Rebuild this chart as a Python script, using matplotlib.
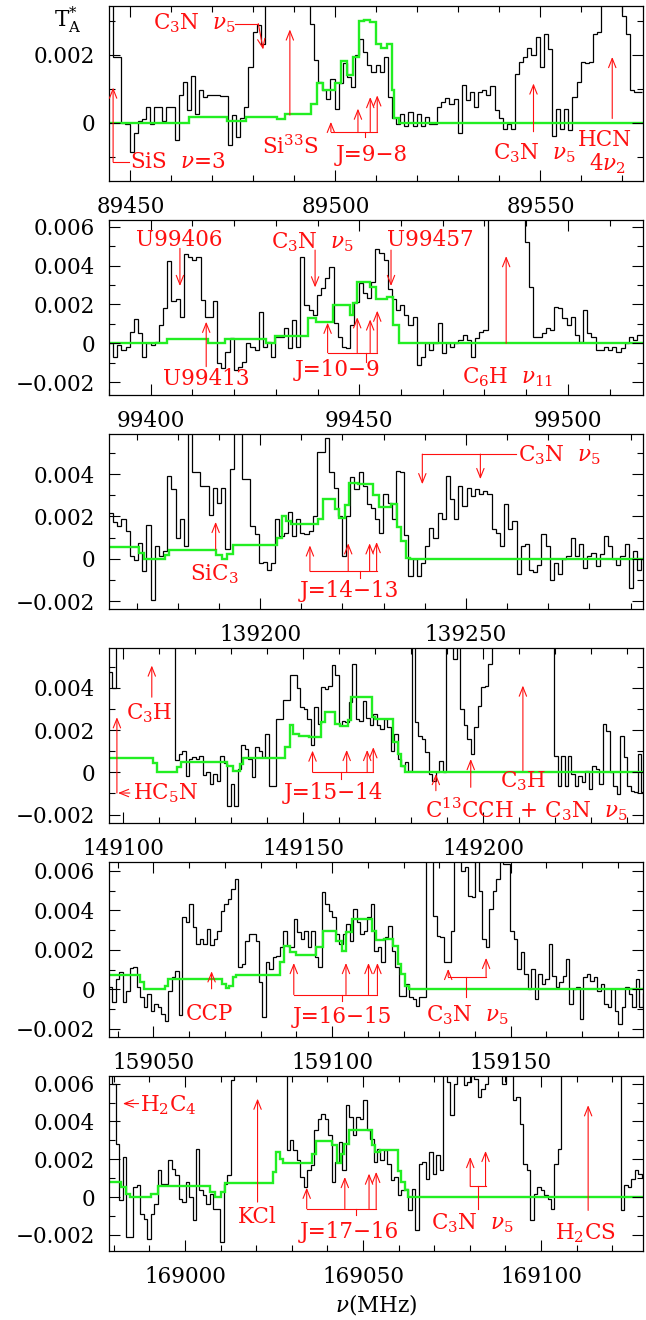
import numpy as np
import matplotlib
matplotlib.use('Agg')
import matplotlib.pyplot as plt
from matplotlib.ticker import MultipleLocator, FuncFormatter

plt.rcParams['font.family'] = ['DejaVu Serif']
plt.rcParams['mathtext.fontset'] = 'dejavuserif'

RED = '#ff1010'
GREEN = '#22ee22'
FS = 15.5

# ---------------- data (T_A* in mK, frequency in MHz) ----------------
# Panel 1 : J=9-8
p1_f0, p1_df = 89444.8, 1.0
p1_obs = [4.0, 1.93, 1.93, 0.0, -0.05, -0.86, -0.32, 0.05, 0.09, 0.46,
          -0.05, 0.46, 0.46, 0.05, 0.46, 0.46, -0.5, 0.8, 1.2, 0.36,
          1.36, 0.26, 0.97, 0.75, 0.82, 0.82, 0.82, 0.77, 0.77, -0.67,
          0.22, -0.42, 0.12, 0.46, 1.64, 2.67, 2.86, 2.32, 4.0, 4.0,
          4.0, 4.0, 4.0, 4.0, 4.0, 4.0, 4.0, 4.0, 4.0, 2.91,
          1.83, 1.2, 0.95, 0.68, 1.29, 0.41, 1.15, 1.74, 1.34, 1.05,
          1.98, 2.47, 2.08, 1.69, 1.49, 1.69, 1.49, 1.93, 0.75, 0.12,
          -0.05, 0.26, -0.1, 0.31, -0.1, 0.26, -0.1, 0.17, -0.03, -0.03,
          0.46, 0.61, 0.71, 0.56, 0.68, -0.32, 1.1, 0.66, 0.9, 0.46,
          0.9, 0.95, 0.8, 1.07, 0.36, 0.12, -0.18, -0.03, -0.18, 1.44,
          1.78, 1.93, 2.2, 1.98, 2.52, 1.64, 2.62, 2.15, -0.4, 0.41,
          -0.18, 0.41, -0.23, 0.75, 1.2, 1.78, 1.74, 1.78, 2.62, 2.67,
          4.0, 4.0, 4.0, 4.0, 4.0, 3.15, 2.6, 0.95, 0.9, 0.9]
p1_model_edges = [89444.8, 89464.4, 89473.5, 89478.1, 89485.7, 89487.7, 89494.1,
                  89495.5, 89496.9, 89499.9, 89501.4, 89502.9, 89504.3, 89505.7,
                  89507.0, 89508.5, 89510.0, 89511.1, 89512.6, 89513.8, 89514.4,
                  89515.4, 89575.0]
p1_model = [0, 0.15, 0.05, 0.15, 0.1, 0.26, 0.56, 1.15, 0.97, 1.15, 1.8, 1.4,
            1.93, 3.0, 3.03, 2.96, 2.32, 2.2, 2.32, 0.97, 0.12, 0]
p1_xlim, p1_ylim = (89444.8, 89575.0), (-1.72, 3.43)

# Panel 2 : J=10-9
p2_f0, p2_df = 99390.0, 0.997
p2_obs = [0.0, -0.69, -0.09, -0.34, -0.17, 0.6, 1.23, 0.51, -0.69, 0.0,
          -0.09, 0.09, 0.94, 1.8, 4.25, 2.2, 2.26, 1.37, 4.58, 4.46,
          4.29, 4.46, 2.23, 1.37, 1.37, 2.2, -1.03, -1.29, -0.43, 0.26,
          -1.37, -1.2, -0.94, 0.0, -0.17, -0.34, 1.63, -0.21, 0.09, -0.69,
          0.34, 0.34, 0.77, -0.26, 1.2, -0.17, 4.46, 1.97, 1.72, 1.46,
          2.49, 2.83, 3.34, 3.95, 1.03, 0.34, -0.17, -0.26, 0.94, 2.14,
          3.09, 2.57, 2.32, 3.17, 4.84, 4.63, 4.29, 2.78, 2.26, 1.72,
          1.97, 1.46, 0.94, 1.37, -1.11, -0.69, 0.0, -0.34, 0.0, 1.03,
          -0.51, 0.0, -0.17, 0.0, 0.17, 0.43, 0.17, -0.69, 0.26, 0.6,
          0.69, 7, 7, 7, 7, 7, 7, 7, 7, 7,
          5.23, 2.92, 0.34, 0.34, 0.51, 0.77, 0.69, 1.89, 1.8, 1.29,
          0.94, 1.37, 0.43, 0.09, 1.72, 0.51, 0.34, -0.34, -0.34, -0.17,
          -0.34, -0.17, -0.43, -0.26, 0.0, 0.34, 0.17, 0.43, 0.43]
p2_model_edges = [99390.0, 99403.8, 99413.8, 99417.7, 99427.7, 99429.7, 99437.7,
                  99439.7, 99443.7, 99447.7, 99448.5, 99449.4, 99452.6, 99454.1,
                  99456.6, 99458.1, 99459.4, 99518.0]
p2_model = [0.03, 0.2, 0.03, 0.2, 0.03, 0.38, 1.29, 1.11, 1.97, 1.46, 2.06, 3.17,
            2.88, 2.26, 2.4, 0.94, 0]
p2_xlim, p2_ylim = (99390.0, 99518.0), (-2.66, 6.35)

# Panel 3 : J=14-13
p3_f0, p3_df = 139163.3, 1.01
p3_obs = [2.18, 1.74, 1.55, 1.86, 1.31, 0.13, -0.08, 0.73, -0.58, 1.58,
          -1.93, 0.6, 0.13, 0.36, 3.92, 3.29, 1.0, 1.9, 0.6, 7,
          4.1, 4.1, 3.44, 3.44, 2.07, 3.36, 2.65, 3.36, 0.44, 4.23,
          7, 7, 3.76, 3.76, 1.55, 1.15, -0.22, -0.16, -0.51, -0.19,
          1.86, 1.07, 1.23, 2.21, 1.07, 1.86, 1.23, 1.15, 1.31, 2.02,
          5.02, 5.02, 5.69, 4.08, 3.32, 2.02, 0.13, 2.02, 3.84, 3.29,
          4.1, 3.44, 2.58, 2.42, 1.86, 1.23, 3.05, 2.65, 1.9, 4.15,
          4.1, 1.11, -0.82, -0.03, -0.82, -0.22, 0.6, 1.47, 1.0, 2.18,
          1.9, 3.92, 2.81, 1.86, 3.44, 2.5, 3.36, 2.97, 3.29, 3.05,
          3.21, 3.05, 1.39, 1.23, 0.6, 2.58, 1.39, 1.79, -0.74, 0.6,
          0.68, -0.51, -0.63, -0.27, 1.15, 0.6, -0.98, -0.19, -0.74, -0.03,
          0.13, 1.0, 0.13, 0.68, -0.43, 0.13, 0.28, -0.35, 0.21, 1.07,
          0.6, -0.03, -0.27, 0.13, 0.68, -1.37, 0.36, -0.51, -0.03]
p3_model_edges = [139163.3, 139170.7, 139171.7, 139176.8, 139177.8, 139189.4,
                  139190.7, 139191.9, 139193.4, 139204.0, 139205.4, 139206.4,
                  139207.6, 139214.1, 139215.2, 139218.2, 139219.2, 139220.7,
                  139221.7, 139223.7, 139227.3, 139228.8, 139231.8, 139233.3,
                  139234.3, 139235.4, 139236.4, 139293.0]
p3_model = [0.57, 0.28, 0, 0.2, 0.41, 0.2, 0, 0.24, 0.63, 1.0, 2.02, 1.79, 1.63,
            1.9, 2.81, 2.34, 1.93, 2.53, 3.6, 3.55, 3.0, 2.46, 2.58, 1.52, 0.84,
            0.05, 0]
p3_xlim, p3_ylim = (139163.3, 139293.0), (-2.37, 5.89)

# Panel 4 : J=15-14
p4_f0, p4_df = 149096.0, 0.967
p4_obs = [4.75, 3.99, 7, 7, 7, 7, 7, 7, 7, 7,
          7, 7, 7, 7, 7, 7, 7, 7, 7, 0.6,
          0.87, 1.03, -0.16, 0.63, 0.71, 0.63, 0.79, -0.13, 0.0, -0.55,
          -0.08, -0.4, 0.79, 0.44, -1.58, -0.55, -1.58, 0.16, 1.3, 1.11,
          0.63, -0.24, 1.19, 1.03, 0.71, 1.82, -0.63, -0.63, 2.53, 2.53,
          3.43, 3.43, 4.59, 4.59, 3.99, 3.09, 3.0, 2.53, 1.3, 3.09,
          2.29, 4.03, 3.96, 4.11, 5.09, 4.62, 2.22, 2.45, 2.37, 3.32,
          5.14, 2.53, 2.45, 3.4, 2.56, 2.22, 2.77, 2.22, 2.06, 2.53,
          2.14, 1.03, 1.82, 0.63, 0.32, 0.47, 0.08, 7, 2.37, 1.74,
          1.58, 0.95, -0.08, -0.4, 0.0, 0.55, 0.0, 7, 7, 5.38,
          7, 3.0, 2.22, 1.58, 0.87, 2.14, 3.16, 4.03, 4.11, 5.14,
          7, 7, 7, 7, 7, 7, 7, 7, 7, 7,
          7, 7, 7, 7, 7, 7, 7, 7, 0.79, -0.63,
          0.79, -0.63, 0.79, -0.08, -0.63, -0.16, -0.47, 0.08, -0.79, 0.32,
          0.16, -0.55, 2.29, 1.98, 0.0, -0.63, -1.03, 1.74, 0.71, -0.63,
          -0.87, -0.95, 0.87, -0.95]
p4_model_edges = [149096.0, 149108.1, 149109.4, 149114.9, 149115.9, 149128.9,
                  149130.4, 149132.3, 149133.3, 149144.9, 149146.3, 149147.3,
                  149148.7, 149151.6, 149155.0, 149156.0, 149158.9, 149160.1,
                  149162.5, 149163.2, 149169.1, 149170.0, 149174.9, 149176.3,
                  149177.3, 149178.2, 149245.0]
p4_model = [0.66, 0.44, 0, 0.24, 0.47, 0.32, 0.05, 0.4, 0.68, 1.19, 2.25, 1.82,
            1.71, 1.66, 2.37, 2.85, 2.29, 2.2, 2.5, 3.56, 2.61, 2.55, 1.42, 0.87,
            0.32, 0]
p4_xlim, p4_ylim = (149096.0, 149244.5), (-2.4, 5.89)

# Panel 5 : J=16-15
p5_f0, p5_df = 159037.6, 0.976
p5_obs = [0.1, -0.66, 0.52, 0.86, -0.66, -0.07, 1.08, 1.11, 0.1, -0.41,
          -0.91, -0.24, -1.08, -0.74, -0.91, -1.25, -1.59, -0.07, 0.61, 0.95,
          -1.33, 3.65, 3.4, 4.32, 3.15, 2.3, 2.55, 2.3, 3.07, 2.23,
          2.55, 2.97, 3.99, 4.32, 4.58, 5.08, 5.59, 1.11, 1.28, 2.47,
          2.8, 2.8, 2.47, 0.35, -1.42, 1.37, 1.03, 1.62, 1.71, 2.13,
          2.97, 2.21, 2.13, 3.56, 2.89, 2.55, 2.97, 2.13, 2.97, 1.62,
          1.11, 4.92, 4.32, 3.99, 3.65, 2.8, 2.3, 2.8, 3.31, 2.47,
          4.07, 3.4, 2.8, 2.97, 3.65, 4.32, 1.96, 2.13, 1.37, 2.64,
          3.23, 1.96, 1.11, -0.32, -0.32, 0.27, -0.41, -0.49, -0.83, -0.41,
          -0.41, 7, 7, 3.73, 2.72, 2.64, 1.37, 1.37, 2.97, 7,
          7, 6.0, 6.2, 4.75, 4.66, 7, 5.0, 2.55, 2.13, 4.07,
          5.0, 5.59, 7, 6.35, 6.35, 2.97, 2.55, 1.03, 1.88, 0.78,
          0.02, 1.03, -0.49, 0.78, 0.27, 0.52, 2.3, 0.69, 0.1, 0.35,
          0.69, 1.54, -0.74, 0.02, 0.1, -1.5, 0.61, 0.78, 0.44, 0.61,
          -0.07, 0.27, -0.74, -0.91, 0.02, -1.08, -1.76, -0.91, 0.1, -0.24,
          -0.91, 0.52, -0.91, -0.2]
p5_model_edges = [159037.6, 159046.3, 159047.5, 159053.2, 159054.1, 159069.3,
                  159070.2, 159071.2, 159072.2, 159073.2, 159085.4, 159086.5,
                  159088.1, 159089.8, 159095.6, 159097.6, 159101.0, 159102.9,
                  159103.9, 159105.7, 159111.2, 159112.2, 159114.6, 159117.1,
                  159118.5, 159119.3, 159120.3, 159121.5, 159188.0]
p5_model = [0.73, 0.35, 0.03, 0.19, 0.52, 0.27, 0.05, 0.19, 0.64, 0.73, 1.37,
            2.21, 1.88, 1.74, 2.13, 2.94, 2.47, 1.96, 2.9, 3.58, 2.95, 2.5, 2.55,
            2.21, 1.3, 0.78, 0.19, 0]
p5_xlim, p5_ylim = (159037.6, 159187.0), (-2.42, 6.45)

# Panel 6 : J=17-16
p6_f0, p6_df = 168978.7, 0.977
p6_obs = [6.5, 6.0, 2.83, -0.18, 2.12, -2.12, -2.12, 0.53, 0.62, -0.88,
          -1.15, -2.2, -0.88, -0.35, 1.41, 0.71, 0.71, 1.94, 1.5, 1.15,
          -0.09, -0.27, 0.8, 0.0, -1.24, 2.56, 0.35, 0.09, -0.35, 0.18,
          -0.62, -0.62, -2.39, 0.71, 1.15, 6.18, 7, 7, 7, 7,
          7, 7, 7, 7, 7, 7, 7, 7, 7, 7,
          7, 2.47, 3.0, 2.47, 1.94, 1.06, 0.53, 1.41, 1.68, 3.53,
          4.15, 4.42, 4.15, 3.27, 0.8, 1.86, 2.92, 1.41, 4.86, 4.24,
          3.27, 4.24, 4.15, 5.12, 3.53, 3.09, 1.86, 2.56, 1.94, 2.47,
          1.77, 0.88, 1.06, 0.09, 0.35, 0.44, -0.71, 0.44, -1.77, 1.77,
          1.86, 0.97, 2.39, 1.24, 2.21, 1.41, 7, 6.1, 4.33, 6.0,
          7, 7, 5.92, 6.1, 7, 6.27, 5.3, 5.74, 6.0, 7,
          7, 7, 7, 6.0, 7, 7, 5.12, 5.3, 3.89, 1.77,
          1.41, -1.24, 0.18, 0.53, 0.35, 0.09, -0.09, -0.62, 1.77, 2.56,
          7, 7, 7, 7, 7, 7, 7, 7, 7, 7,
          7, 7, 7, 7, 7, 7, 7, -0.71, 0.62, 0.53,
          0.97, 1.41, 1.24, 1.0]
p6_model_edges = [168978.7, 168982.1, 168983.6, 168984.6, 168990.4, 168992.4,
                  169007.0, 169008.5, 169010.0, 169011.4, 169024.6, 169025.6,
                  169026.6, 169027.5, 169035.8, 169036.8, 169041.2, 169042.7,
                  169043.7, 169044.6, 169046.1, 169052.4, 169053.4, 169054.9,
                  169059.8, 169060.7, 169061.7, 169062.7, 169129.0]
p6_model = [0.8, 0.53, 0.18, 0, 0.18, 0.57, 0.27, 0, 0.27, 0.76, 1.33, 2.39,
            2.03, 1.82, 2.3, 2.95, 2.74, 1.82, 2.3, 2.83, 3.53, 2.74, 2.39, 2.51,
            1.38, 0.8, 0.35, 0]
p6_xlim, p6_ylim = (168978.7, 169128.6), (-2.86, 6.41)

panels = [
    (p1_f0, p1_df, p1_obs, p1_model_edges, p1_model, p1_xlim, p1_ylim),
    (p2_f0, p2_df, p2_obs, p2_model_edges, p2_model, p2_xlim, p2_ylim),
    (p3_f0, p3_df, p3_obs, p3_model_edges, p3_model, p3_xlim, p3_ylim),
    (p4_f0, p4_df, p4_obs, p4_model_edges, p4_model, p4_xlim, p4_ylim),
    (p5_f0, p5_df, p5_obs, p5_model_edges, p5_model, p5_xlim, p5_ylim),
    (p6_f0, p6_df, p6_obs, p6_model_edges, p6_model, p6_xlim, p6_ylim),
]

# ---------------- figure ----------------
W, H = 646, 1320
fig = plt.figure(figsize=(W / 100, H / 100), dpi=100)
axes = []
for i in range(6):
    top = 6 + 214 * i
    ax = fig.add_axes([109 / W, 1 - (top + 175) / H, 534 / W, 175 / H])
    axes.append(ax)


def yfmt(v, pos):
    if abs(v) < 1e-9:
        return '0'
    return ('%.3f' % v).replace('-', '\u2212')


def xfmt(v, pos):
    return '%d' % int(round(v))


for ax, (f0, df, obs, medges, mvals, xlim, ylim) in zip(axes, panels):
    edges = f0 + df * np.arange(len(obs) + 1)
    ax.stairs(np.array(obs) * 1e-3, edges, color='black', lw=0.9, baseline=None)
    ax.stairs(np.array(mvals) * 1e-3, np.array(medges), color=GREEN, lw=1.7,
              baseline=None)
    ax.set_xlim(*xlim)
    ax.set_ylim(ylim[0] * 1e-3, ylim[1] * 1e-3)
    ax.xaxis.set_major_locator(MultipleLocator(50))
    ax.xaxis.set_minor_locator(MultipleLocator(10))
    ax.yaxis.set_major_locator(MultipleLocator(0.002))
    ax.yaxis.set_minor_locator(MultipleLocator(0.001))
    ax.yaxis.set_major_formatter(FuncFormatter(yfmt))
    ax.xaxis.set_major_formatter(FuncFormatter(xfmt))
    ax.tick_params(which='both', direction='in', top=True, right=True,
                   width=0.8, labelsize=FS)
    ax.tick_params(which='major', length=8)
    ax.tick_params(which='minor', length=4)
    ax.tick_params(axis='x', which='major', pad=11)
    ax.tick_params(axis='y', which='major', pad=10)
    for s in ax.spines.values():
        s.set_linewidth(0.9)


def K(v):
    return v * 1e-3


def arrow(ax, x0, y0, x1, y1):
    ax.annotate('', xy=(x1, K(y1)), xytext=(x0, K(y0)),
                arrowprops=dict(arrowstyle='->,head_length=0.55,head_width=0.22',
                                color=RED, lw=0.8, shrinkA=0, shrinkB=0,
                                mutation_scale=12))


def up(ax, x, y0, y1):
    arrow(ax, x, y0, x, y1)


def line(ax, xs, ys):
    ax.plot(xs, [K(y) for y in ys], color=RED, lw=0.8)


def bracket(ax, xs, tips, ybar, xstem, ystem):
    line(ax, [min(xs), max(xs)], [ybar, ybar])
    for x, t in zip(xs, tips):
        up(ax, x, ybar, t)
    line(ax, [xstem, xstem], [ybar, ystem])


def lab(ax, x, y, s, ha='center'):
    ax.text(x, K(y), s, color=RED, fontsize=FS, ha=ha, va='center')


C3N = r'C$_3$N  $\nu_5$'

# panel 1
a = axes[0]
up(a, 89445.8, -1.16, 1.03)
line(a, [89445.8, 89449.7], [-1.16, -1.16])
lab(a, 89450.0, -1.16, r'SiS  $\nu$=3', ha='left')
lab(a, 89465.7, 2.91, C3N)
line(a, [89475.6, 89481.2], [2.91, 2.91])
arrow(a, 89481.2, 2.91, 89482.4, 2.15)
up(a, 89488.9, 0.22, 2.74)
lab(a, 89488.9, -0.72, r'Si$^{33}$S')
bracket(a, [89498.9, 89505.5, 89508.5, 89510.2], [0.02, 0.41, 0.75, 0.8],
        -0.27, 89507.1, -0.42)
lab(a, 89508.8, -0.96, 'J=9\u22128')
up(a, 89548.3, -0.27, 1.15)
lab(a, 89548.4, -0.91, C3N)
up(a, 89567.5, 0.12, 1.93)
lab(a, 89565.8, -0.52, 'HCN')
lab(a, 89566.3, -1.2, r'4$\nu_2$')

# panel 2
a = axes[1]
lab(a, 99406.8, 5.32, 'U99406')
up(a, 99407.0, 4.89, 2.95)
up(a, 99413.3, -1.2, 1.11)
lab(a, 99413.3, -1.85, 'U99413')
lab(a, 99438.7, 5.23, C3N)
up(a, 99439.4, 4.8, 2.88)
lab(a, 99467.1, 5.32, 'U99457')
up(a, 99457.6, 4.8, 2.95)
bracket(a, [99442.4, 99449.5, 99452.6, 99454.3], [1.06, 1.34, 1.23, 1.68],
        -0.48, 99451.6, -0.94)
lab(a, 99444.7, -1.37, 'J=10\u22129')
up(a, 99485.2, 0.0, 4.49)
lab(a, 99485.5, -1.72, r'C$_6$H  $\nu_{11}$')

# panel 3
a = axes[2]
up(a, 139189.2, 0.44, 1.74)
lab(a, 139188.9, -0.74, r'SiC$_3$')
lab(a, 139262.6, 4.87, C3N, ha='left')
line(a, [139239.4, 139262.2], [4.94, 4.94])
up(a, 139239.4, 4.94, 3.52)
up(a, 139253.5, 4.94, 3.76)
bracket(a, [139212.1, 139221.4, 139226.6, 139228.3], [0.63, 0.73, 0.73, 0.79],
        -0.58, 139224.2, -0.9)
lab(a, 139221.7, -1.53, 'J=14\u221213')

# panel 4
a = axes[3]
up(a, 149098.2, -0.98, 2.61)
arrow(a, 149101.8, -0.98, 149098.5, -0.98)
lab(a, 149102.6, -0.98, r'HC$_5$N', ha='left')
up(a, 149107.9, 3.56, 5.06)
lab(a, 149107.2, 2.8, r'C$_3$H')
bracket(a, [149152.6, 149162.1, 149167.8, 149169.5], [1.03, 1.06, 1.06, 1.19],
        0.0, 149160.6, -0.32)
lab(a, 149158.4, -0.98, 'J=15\u221214')
up(a, 149186.9, -0.87, -0.08)
up(a, 149196.6, -0.71, 0.63)
lab(a, 149212.1, -1.74, r'C$^{13}$CCH + C$_3$N  $\nu_5$')
up(a, 149211.1, 0.08, 4.11)
lab(a, 149211.1, -0.44, r'C$_3$H')

# panel 5
a = axes[4]
up(a, 159066.3, 0.02, 0.91)
lab(a, 159065.8, -1.25, 'CCP')
bracket(a, [159089.3, 159103.9, 159110.2, 159112.7], [1.33, 1.33, 1.33, 1.33],
        -0.27, 159102.9, -0.61)
lab(a, 159102.9, -1.42, 'J=16\u221215')
bracket(a, [159132.5, 159143.1], [1.03, 1.59], 0.64, 159137.6, -0.41)
lab(a, 159138.0, -1.33, C3N)

# panel 6
a = axes[5]
arrow(a, 168987.0, 4.95, 168982.6, 4.95)
lab(a, 168987.5, 4.87, r'H$_2$C$_4$', ha='left')
up(a, 169020.4, -0.27, 5.21)
lab(a, 169020.4, -1.06, 'KCl')
bracket(a, [169034.2, 169044.9, 169051.7, 169053.7], [0.49, 1.06, 1.24, 1.33],
        -0.62, 169047.9, -0.97)
lab(a, 169046.1, -1.86, 'J=17\u221216')
bracket(a, [169080.1, 169084.4], [2.12, 2.44], 0.57, 169082.4, -0.62)
lab(a, 169080.8, -1.41, C3N)
up(a, 169113.2, -0.71, 4.86)
lab(a, 169112.5, -1.94, r'H$_2$CS')

axes[5].set_xlabel(r'$\nu$(MHz)', fontsize=FS, labelpad=3)
fig.text(68 / W, 1 - 20 / H, r'$\mathrm{T}_\mathrm{A}^{*}$', fontsize=FS,
         ha='center', va='center')

fig.savefig('out.png', dpi=100)
